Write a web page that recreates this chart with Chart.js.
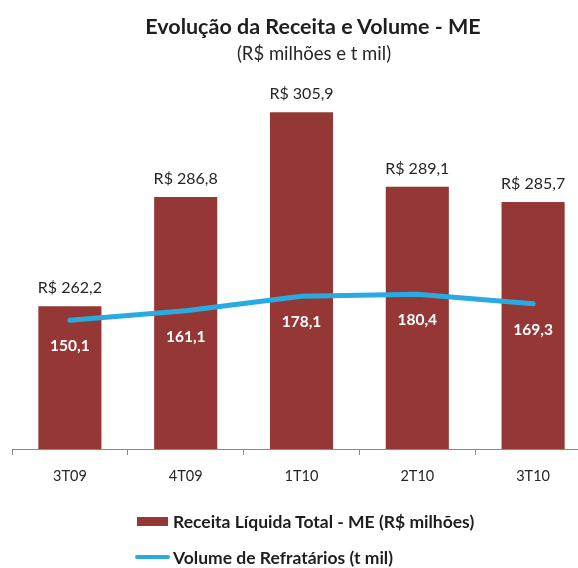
<!DOCTYPE html>
<html><head><meta charset="utf-8">
<script src="https://cdn.jsdelivr.net/npm/chart.js@4.4.0/dist/chart.umd.min.js"></script>
<style>
html,body{margin:0;padding:0;width:578px;height:568px;overflow:hidden;background:#fff;}
#wrap{position:relative;width:578px;height:568px;overflow:hidden;}
canvas{position:absolute;left:0;top:0;}
.t{position:absolute;white-space:nowrap;font-family:Lato,sans-serif;line-height:1;color:#1e1e1e;}
.c{transform:translateX(-50%);}
.sw{position:absolute;}
</style></head><body>
<div id="wrap">
<canvas id="c" width="591" height="568"></canvas>
<div id="title" class="t c" style="left:313px;top:16.4px;font-weight:bold;font-size:21.5px;">Evolução da Receita e Volume - ME</div>
<div id="subtitle" class="t c" style="left:314px;top:43.5px;font-size:18.5px;color:#262626;">(R$ milhões e t mil)</div>
<div id="legend"></div>
</div>
<script>
const categories = ['3T09', '4T09', '1T10', '2T10', '3T10'];
const receita = [262.2, 286.8, 305.9, 289.1, 285.7];
const volume = [150.1, 161.1, 178.1, 180.4, 169.3];
const seriesNames = ['Receita Líquida Total - ME (R$ milhões)', 'Volume de Refratários (t mil)'];
const barColor = '#953735';
const lineColor = '#29ABE2';

const fmt = v => v.toFixed(1).replace('.', ',');

const valueLabels = {
  id: 'valueLabels',
  afterDatasetsDraw(chart) {
    const ctx = chart.ctx;
    ctx.save();
    ctx.textAlign = 'center';
    ctx.textBaseline = 'alphabetic';
    ctx.font = '16px Lato';
    ctx.fillStyle = '#262626';
    chart.getDatasetMeta(0).data.forEach((el, i) => {
      ctx.fillText('R$ ' + fmt(receita[i]), el.x, el.y - 13);
    });
    ctx.font = 'bold 15.5px Lato';
    ctx.fillStyle = '#ffffff';
    chart.getDatasetMeta(1).data.forEach((el, i) => {
      ctx.fillText(fmt(volume[i]), el.x, el.y + 31);
    });
    ctx.restore();
  }
};

const chart = new Chart(document.getElementById('c'), {
  data: {
    labels: categories,
    datasets: [
      { type: 'bar', label: seriesNames[0], data: receita, backgroundColor: barColor,
        yAxisID: 'y', order: 2, barPercentage: 0.545, categoryPercentage: 1 },
      { type: 'line', label: seriesNames[1], data: volume, borderColor: lineColor,
        borderWidth: 5, pointRadius: 0, tension: 0, yAxisID: 'y2', order: 1,
        borderCapStyle: 'round', borderJoinStyle: 'round' }
    ]
  },
  options: {
    responsive: false, animation: false, devicePixelRatio: 1,
    layout: { padding: { left: 12, right: 0, top: 20, bottom: 79 } },
    plugins: { legend: { display: false }, title: { display: false }, tooltip: { enabled: false } },
    scales: {
      x: {
        type: 'category', offset: true,
        grid: { display: true, offset: true, drawOnChartArea: false, drawTicks: true, tickLength: 6, color: '#888888', lineWidth: 1 },
        border: { display: true, color: '#888888', width: 1 },
        ticks: { color: '#262626', font: { family: 'Lato', size: 14.5 }, padding: 13 },
        afterFit(s) { s.height = 40; }
      },
      y: { display: false, min: 230, max: 326.7 },
      y2: { display: false, min: 0, max: 500, position: 'right' }
    }
  },
  plugins: [valueLabels]
});

// legend built from the chart's datasets
const legend = document.getElementById('legend');
const rows = [
  { top: 512.7, swatch: { left: 136.7, top: 517, w: 31, h: 9, r: 0 } },
  { top: 548.7, swatch: { left: 135, top: 555.3, w: 35, h: 4, r: 2 } }
];
chart.data.datasets.forEach((ds, i) => {
  const r = rows[i];
  const sw = document.createElement('div');
  sw.className = 'sw';
  sw.style.cssText = `left:${r.swatch.left}px;top:${r.swatch.top}px;width:${r.swatch.w}px;height:${r.swatch.h}px;border-radius:${r.swatch.r}px;background:${ds.type === 'bar' ? ds.backgroundColor : ds.borderColor};`;
  legend.appendChild(sw);
  const tx = document.createElement('div');
  tx.className = 't';
  tx.style.cssText = `left:173px;top:${r.top}px;font-weight:bold;font-size:17.5px;`;
  tx.textContent = ds.label;
  legend.appendChild(tx);
});
</script>
</body></html>
